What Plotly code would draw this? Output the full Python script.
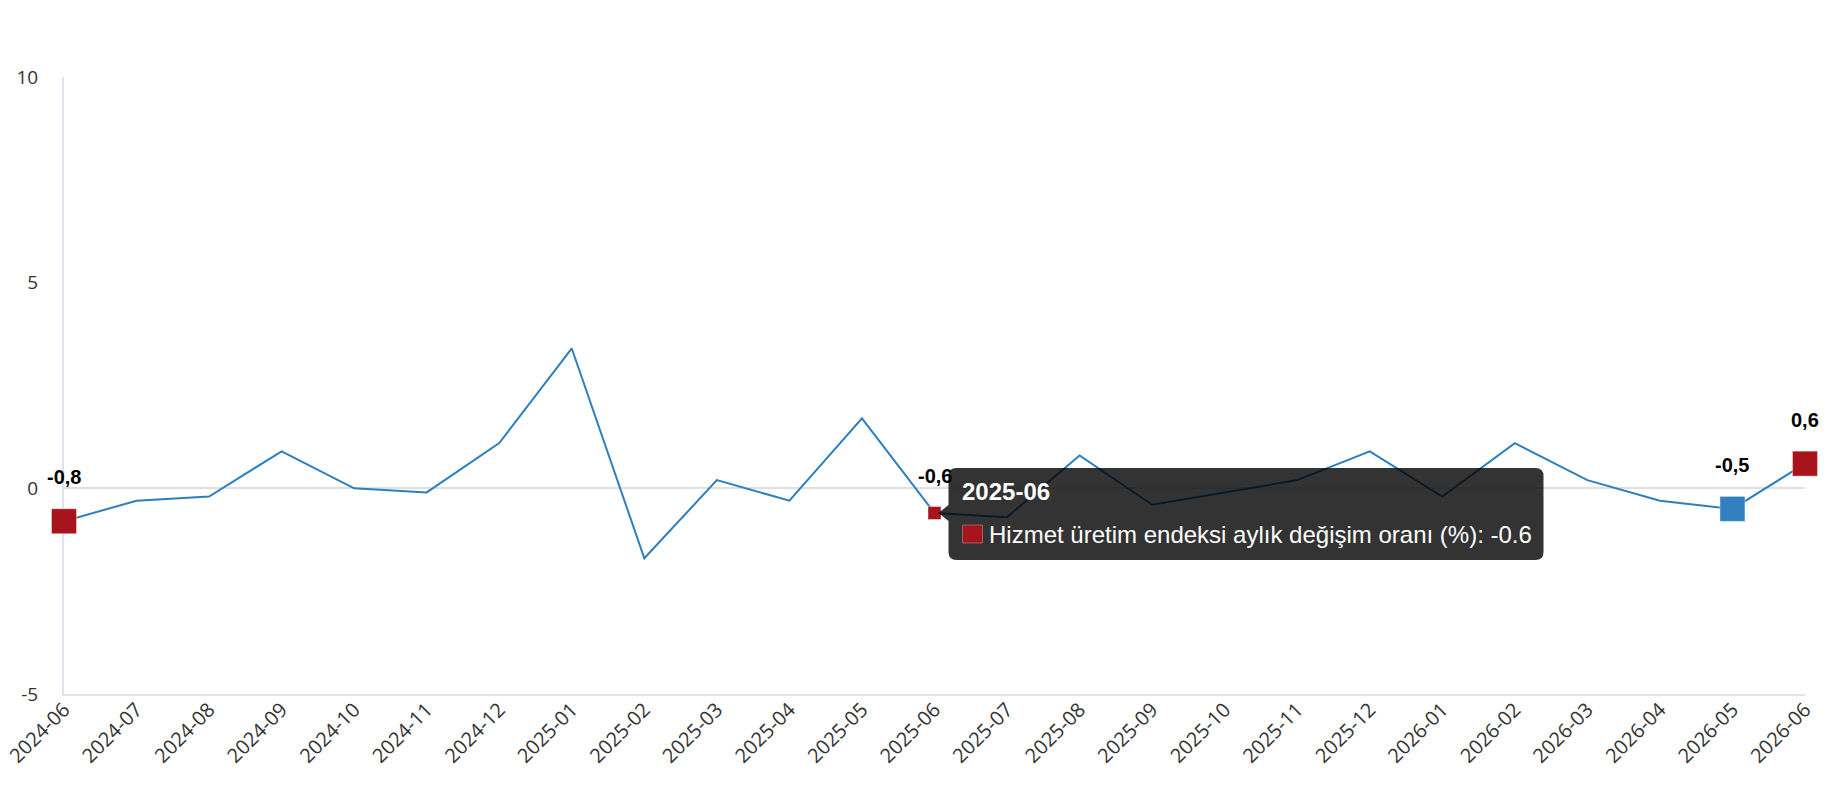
import plotly.graph_objects as go

# data
months = ["2024-06", "2024-07", "2024-08", "2024-09", "2024-10", "2024-11", "2024-12",
          "2025-01", "2025-02", "2025-03", "2025-04", "2025-05", "2025-06", "2025-07",
          "2025-08", "2025-09", "2025-10", "2025-11", "2025-12", "2026-01", "2026-02",
          "2026-03", "2026-04", "2026-05", "2026-06"]
change = [-0.8, -0.3, -0.2, 0.9, 0.0, -0.1, 1.1, 3.4, -1.7, 0.2, -0.3, 1.7, -0.6, -0.7,
          0.8, -0.4, -0.1, 0.2, 0.9, -0.2, 1.1, 0.2, -0.3, -0.5, 0.6]
series_name = "Hizmet üretim endeksi aylık değişim oranı (%)"

# highlighted points: (month, colour, marker size)
highlights = [("2024-06", "#a8141c", 25), ("2025-06", "#a8141c", 13),
              ("2026-05", "#3380c0", 25), ("2026-06", "#a8141c", 25)]
hover_month = "2025-06"

y_ticks = [-5, 0, 5, 10]
y_tick_text = ["-5", "0", "5", "10"]

LINE = "#2f7ebd"

fig = go.Figure()
fig.add_trace(go.Scatter(
    x=months, y=change, mode="lines", name=series_name,
    line=dict(color=LINE, width=2), cliponaxis=False, hoverinfo="skip",
))

for m, col, sz in highlights:
    i = months.index(m)
    fig.add_trace(go.Scatter(
        x=[m], y=[change[i]], mode="markers", showlegend=False,
        marker=dict(symbol="square", size=sz, color=col,
                    line=dict(color="rgba(255,255,255,0.4)", width=1)),
        cliponaxis=False,
    ))
    fig.add_annotation(
        x=m, y=change[i], text="<b>" + f"{change[i]:.1f}".replace(".", ",") + "</b>",
        showarrow=False, yshift=44 if sz > 20 else 37,
        font=dict(family="Liberation Sans, Arial", size=20, color="#000000"),
    )

# tooltip anchored on the hovered point
hi = months.index(hover_month)
hv = change[hi]
box = ("M 14,8 L 14,37 Q 14,45 22,45 L 601,45 Q 609,45 609,37 L 609,-39 "
       "Q 609,-47 601,-47 L 22,-47 Q 14,-47 14,-39 L 14,-8 L 4,0 Z")
fig.add_shape(type="path", path=box, xref="x", yref="y",
              xsizemode="pixel", ysizemode="pixel",
              xanchor=hover_month, yanchor=hv,
              fillcolor="rgba(0,0,0,0.8)", line=dict(width=0), layer="above")
fig.add_shape(type="rect", xref="x", yref="y", xsizemode="pixel", ysizemode="pixel",
              xanchor=hover_month, yanchor=hv, x0=28, x1=48, y0=-12, y1=-30,
              fillcolor="#a8141c", line=dict(color="rgba(255,255,255,0.3)", width=1),
              layer="above")
fig.add_annotation(x=hover_month, y=hv, xanchor="left", yanchor="middle",
                   xshift=25, yshift=22, showarrow=False,
                   text="<b>" + hover_month + "</b>",
                   font=dict(family="Liberation Sans, Arial", size=24, color="#ffffff"))
fig.add_annotation(x=hover_month, y=hv, xanchor="left", yanchor="middle",
                   xshift=52, yshift=-21, showarrow=False,
                   text=f"{series_name}: {hv}",
                   font=dict(family="Liberation Sans, Arial", size=24, color="#ffffff"))

# page body has an 8px margin, so the figure is shrunk and margins shifted
fig.update_layout(
    width=1814, height=784,
    margin=dict(l=56, r=17, t=69, b=98, autoexpand=False),
    paper_bgcolor="white", plot_bgcolor="white",
    showlegend=False,
    font=dict(family="Open Sans, Noto Sans, sans-serif", color="#333333"),
)
fig.update_xaxes(
    type="category", range=[0, len(months) - 1], tickangle=-45,
    showgrid=False, zeroline=False, showline=True, linecolor="#e1e4e8", linewidth=2,
    tickfont=dict(size=20, color="#333333"), ticks="", automargin=False,
    ticklabelstandoff=-6, layer="below traces",
)
fig.update_yaxes(
    range=[-5, 10], tickvals=y_ticks, ticktext=y_tick_text,
    showgrid=False, zeroline=True, zerolinecolor="#e0e0e0", zerolinewidth=2,
    showline=True, linecolor="#dde3ec", linewidth=2, automargin=False,
    tickfont=dict(size=19, color="#333333"), ticks="", ticklabelstandoff=20,
    layer="below traces",
)

fig.write_html("out.html")
